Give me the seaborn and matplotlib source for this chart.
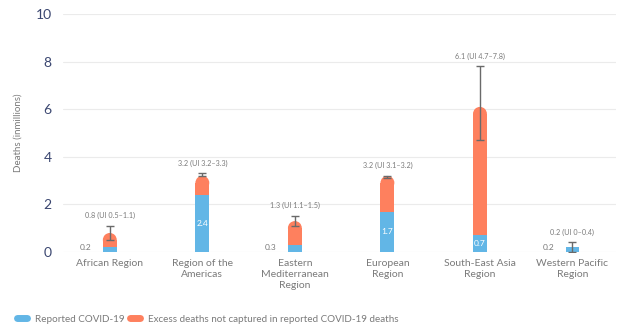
import matplotlib
matplotlib.use("Agg")
import matplotlib.pyplot as plt
from matplotlib.patches import Ellipse
from matplotlib.lines import Line2D
import numpy as np
import pandas as pd
import seaborn as sns

# Regions and estimates (millions of deaths)
regions = ["African Region", "Region of the\nAmericas", "Eastern\nMediterranean\nRegion",
           "European\nRegion", "South-East Asia\nRegion", "Western Pacific\nRegion"]
total_excess = [0.8, 3.2, 1.3, 3.2, 6.1, 0.2]
ui_low = [0.5, 3.2, 1.1, 3.1, 4.7, 0.0]
ui_high = [1.1, 3.3, 1.5, 3.2, 7.8, 0.4]
reported = [0.2, 2.4, 0.3, 1.7, 0.7, 0.2]
y_ticks = [0, 2, 4, 6, 8, 10]

BLUE = "#62b6e6"
ORANGE = "#fe805e"
GREY_TEXT = "#7a7a7a"
NAVY = "#3a4670"

sns.set_theme(style="white")
plt.rcParams["font.family"] = ["Lato", "DejaVu Sans"]

df = pd.DataFrame({"region": regions, "total": total_excess, "reported": reported})

fig = plt.figure(figsize=(6.26, 3.36), dpi=100)
ax = fig.add_axes([0.1, 0.25, 0.884, 0.708])

bar_w = 0.15
sns.barplot(data=df, x="region", y="total", color=ORANGE, saturation=1,
            width=bar_w, errorbar=None, ax=ax, zorder=2, linewidth=0)
orange_bars = list(ax.patches)
sns.barplot(data=df, x="region", y="reported", color=BLUE, saturation=1,
            width=bar_w, errorbar=None, ax=ax, zorder=3, linewidth=0)

ax.set_ylim(0, 10)
ax.set_xlim(-0.51, 5.47)

# Rounded caps on the excess segments
fig.canvas.draw()
px_per_y = ax.transData.transform((0, 1))[1] - ax.transData.transform((0, 0))[1]
px_per_x = ax.transData.transform((1, 0))[0] - ax.transData.transform((0, 0))[0]
for rect, tot, rep in zip(orange_bars, total_excess, reported):
    if tot - rep <= 0:
        rect.set_visible(False)
        continue
    w = rect.get_width()
    ry = (w * px_per_x / 2) / px_per_y
    x0 = rect.get_x()
    rect.set_height(tot - ry)
    ax.add_patch(Ellipse((x0 + w / 2, tot - ry), w, 2 * ry, color=ORANGE,
                         linewidth=0, zorder=2))

# Uncertainty intervals
xs = np.arange(len(regions))
tot = np.array(total_excess)
ax.errorbar(xs, tot, yerr=[tot - np.array(ui_low), np.array(ui_high) - tot],
            fmt="none", ecolor="#6a6a6a", elinewidth=1, capsize=3, capthick=1, zorder=4)

# Value labels
for i, (t, lo, hi, r) in enumerate(zip(total_excess, ui_low, ui_high, reported)):
    top = max(t, hi)
    ax.annotate(f"{t:.1f} (UI {lo:.1f}\u2013{hi:.1f})".replace("UI 0.0", "UI 0"),
                (i, top), xytext=(0, 5), textcoords="offset points",
                ha="center", va="bottom", fontsize=5.2, color=GREY_TEXT)
    if r >= 0.5:
        ax.text(i, r / 2, f"{r:.1f}", ha="center", va="center",
                fontsize=6, color="white", zorder=5)
    else:
        ax.annotate(f"{r:.1f}", (i, 0), xytext=(-13, 1), textcoords="offset points",
                    ha="right", va="bottom", fontsize=6, color=GREY_TEXT)

# Axes styling
ax.set_yticks(y_ticks)
ax.set_yticklabels([str(v) for v in y_ticks], fontsize=10, color=NAVY)
ax.tick_params(axis="y", length=0, pad=8)
ax.tick_params(axis="x", length=0, pad=5, labelsize=7.5, labelcolor=GREY_TEXT)
for lbl in ax.get_xticklabels():
    lbl.set_linespacing(1.3)
ax.set_xlabel("")
ax.set_ylabel("Deaths (inmillions)", fontsize=7, color=GREY_TEXT, labelpad=9)
ax.grid(axis="y", color="#ebebeb", linewidth=0.8, zorder=0)
ax.set_axisbelow(True)
for s in ax.spines.values():
    s.set_visible(False)

handles = [Line2D([], [], color=BLUE, lw=5, solid_capstyle="round"),
           Line2D([], [], color=ORANGE, lw=5, solid_capstyle="round")]
labels = ["Reported COVID-19", "Excess deaths not captured in reported COVID-19 deaths"]
leg = fig.legend(handles, labels, loc="center left", bbox_to_anchor=(0.021, 0.05),
                 ncol=2, frameon=False, fontsize=7.1, handlelength=1.0,
                 handletextpad=0.8, columnspacing=0.55, borderaxespad=0)
for t in leg.get_texts():
    t.set_color(GREY_TEXT)

fig.savefig("out.png", dpi=100)
